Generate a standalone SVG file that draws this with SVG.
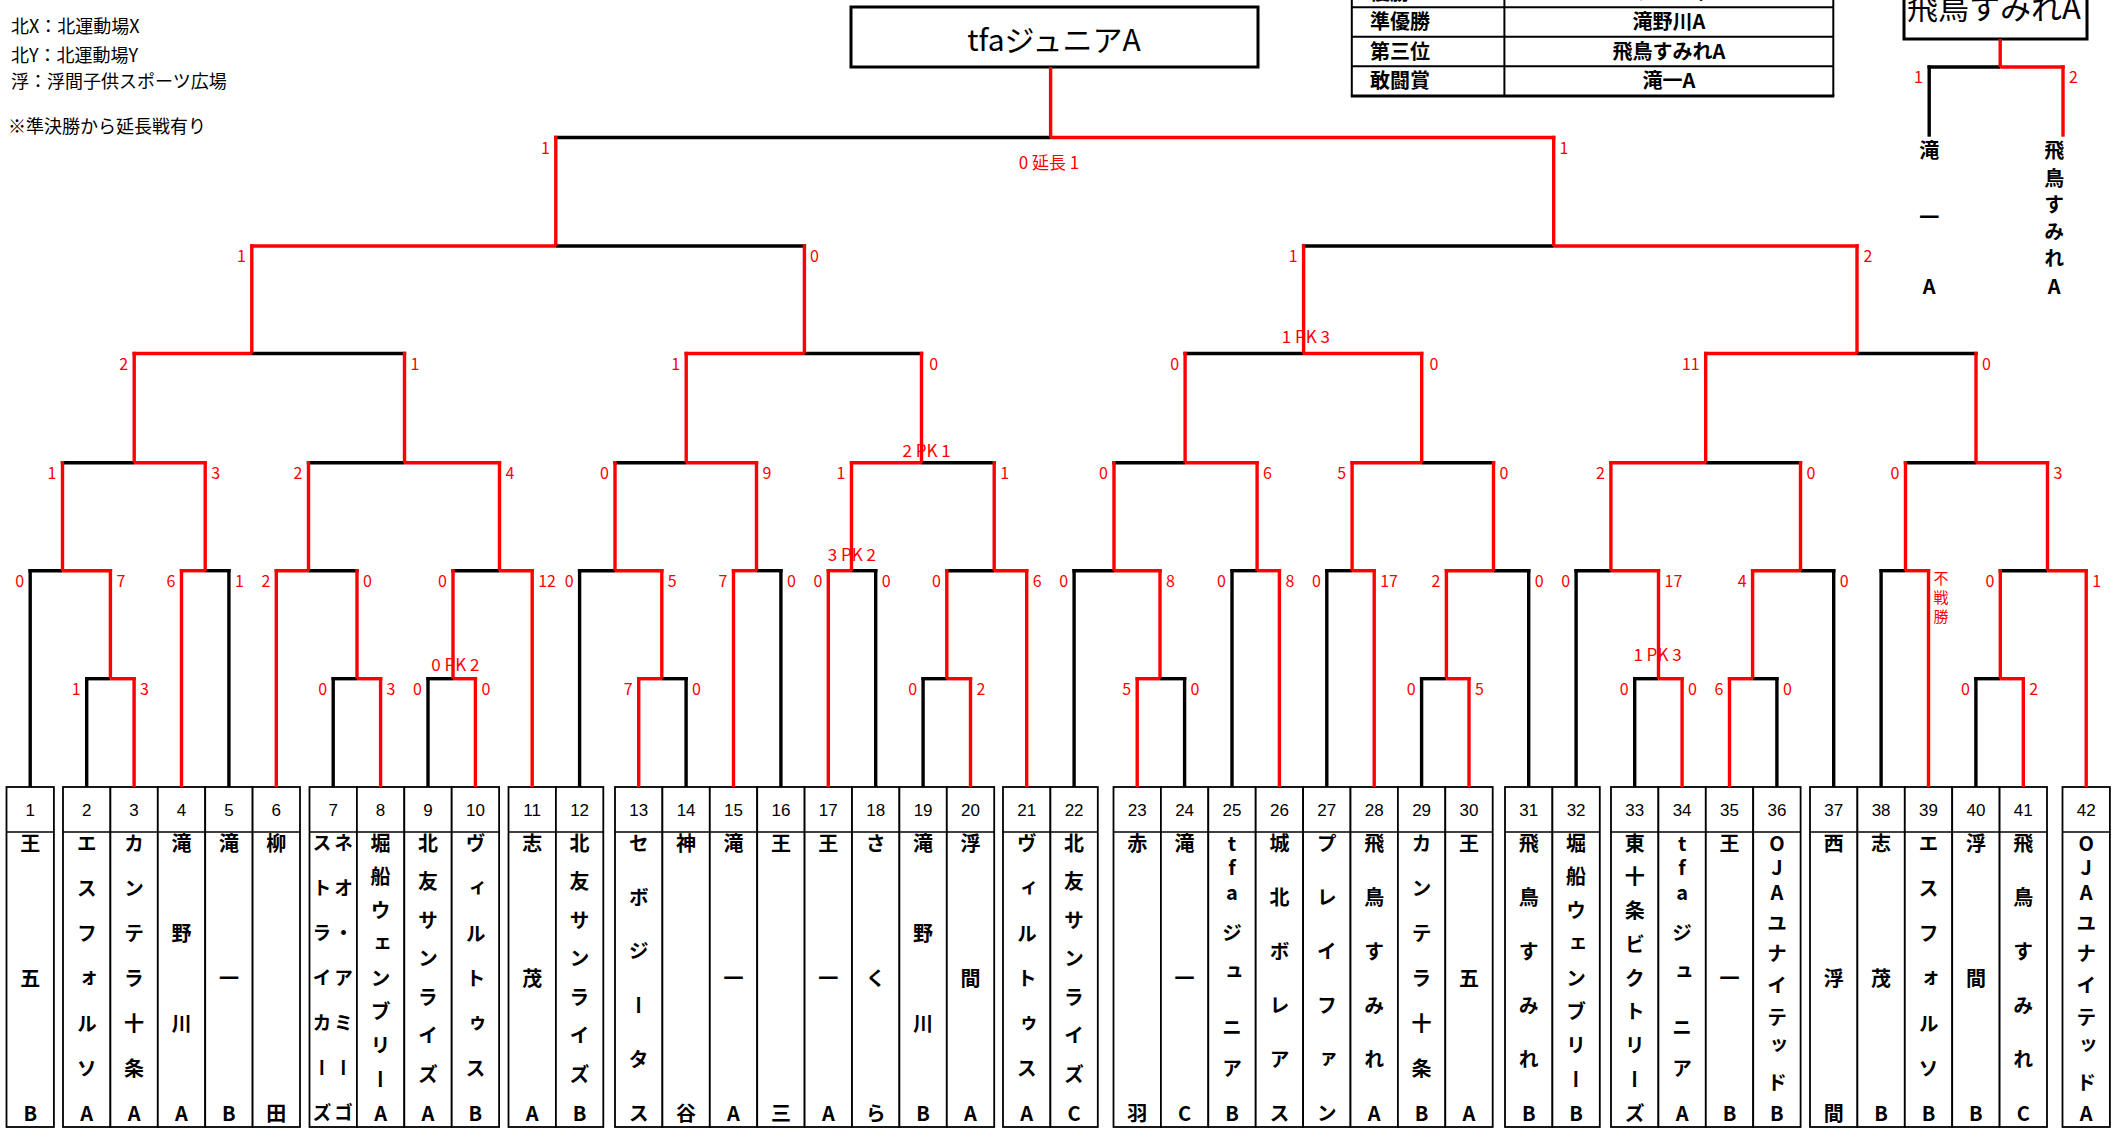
<svg xmlns="http://www.w3.org/2000/svg" width="2119" height="1128" viewBox="0 0 2119 1128">
<style>
.k{stroke:#000;stroke-width:3.4;fill:none}
.r{stroke:#f00;stroke-width:3.4;fill:none}
.cell{fill:#fff;stroke:#000;stroke-width:1.8}
.div{stroke:#000;stroke-width:1.5}
.num{font-family:"Liberation Sans",sans-serif;font-size:17px;text-anchor:middle;fill:#000}
.nm{font-family:"Noto Sans CJK JP",sans-serif;font-weight:bold;font-size:20px;writing-mode:vertical-rl;text-orientation:upright;glyph-orientation-vertical:0;text-anchor:middle;fill:#000}
.nm2{font-size:19px}
.sc{font-family:"Noto Sans CJK JP",sans-serif;font-size:16px;fill:#f00}
.vt{font-family:"Noto Sans CJK JP",sans-serif;font-size:15px;fill:#f00;writing-mode:vertical-rl;text-orientation:upright;text-anchor:middle}
.pk{font-family:"Noto Sans CJK JP",sans-serif;font-size:17px;fill:#f00;text-anchor:middle}
.L{text-anchor:end}
.R{text-anchor:start}
.leg{font-family:"Noto Sans CJK JP",sans-serif;font-size:18px;fill:#000}
.tb{font-family:"Noto Sans CJK JP",sans-serif;font-weight:bold;font-size:20px;fill:#000}
.box{fill:#fff;stroke:#000;stroke-width:3}
</style>
<rect width="2119" height="1128" fill="#fff"/>

<g id="legend">
<text class="leg" x="11" y="33">北X：北運動場X</text>
<text class="leg" x="11" y="61.5">北Y：北運動場Y</text>
<text class="leg" x="11" y="88">浮：浮間子供スポーツ広場</text>
<text class="leg" x="8" y="133">※準決勝から延長戦有り</text>
</g>

<g id="champion">
<rect class="box" x="851" y="7" width="407" height="60"/>
<text x="1054" y="51" font-family="Noto Sans CJK JP, sans-serif" font-size="30" text-anchor="middle">tfaジュニアA</text>
</g>

<g id="results-table">
<g stroke="#000" stroke-width="2">
<line x1="1351.8" y1="-5" x2="1351.8" y2="96"/>
<line x1="1504.4" y1="-5" x2="1504.4" y2="96"/>
<line x1="1833.3" y1="-5" x2="1833.3" y2="96"/>
<line x1="1351.8" y1="7.3" x2="1833.3" y2="7.3"/>
<line x1="1351.8" y1="36.7" x2="1833.3" y2="36.7"/>
<line x1="1351.8" y1="66.3" x2="1833.3" y2="66.3"/>
<line x1="1350.8" y1="96" x2="1834.3" y2="96" stroke-width="3"/>
</g>
<text class="tb" x="1370" y="0">優勝</text>
<text class="tb" x="1669" y="0" text-anchor="middle">tfaジュニアA</text>
<text class="tb" x="1370" y="29">準優勝</text>
<text class="tb" x="1669" y="29" text-anchor="middle">滝野川A</text>
<text class="tb" x="1370" y="58.7">第三位</text>
<text class="tb" x="1669" y="58.7" text-anchor="middle">飛鳥すみれA</text>
<text class="tb" x="1370" y="88">敢闘賞</text>
<text class="tb" x="1669" y="88" text-anchor="middle">滝一A</text>
</g>

<g id="third-place">
<rect class="box" x="1904" y="-5" width="183" height="44"/>
<text x="1907" y="19" font-family="Noto Sans CJK JP, sans-serif" font-size="31">飛鳥すみれA</text>
<text class="nm" x="1929.2" y="150 217 286">滝一A</text>
<text class="nm" x="2054.2" y="150 178 204 231 258 286">飛鳥すみれA</text>
</g>

<g id="teams">
<g id="t1"><rect class="cell" x="6.5" y="787" width="47.4" height="340"/><line class="div" x1="6.5" y1="832" x2="53.9" y2="832"/><text class="num" x="30.2" y="816">1</text><text class="nm" x="30.2" y="843 978 1113">王五B</text></g>
<g id="t2"><rect class="cell" x="63" y="787" width="47.4" height="340"/><line class="div" x1="63" y1="832" x2="110.4" y2="832"/><text class="num" x="86.7" y="816">2</text><text class="nm" x="86.7" y="843 888 933 978 1023 1068 1113">エスフォルソA</text></g>
<g id="t3"><rect class="cell" x="110.4" y="787" width="47.4" height="340"/><line class="div" x1="110.4" y1="832" x2="157.8" y2="832"/><text class="num" x="134.1" y="816">3</text><text class="nm" x="134.1" y="843 888 933 978 1023 1068 1113">カンテラ十条A</text></g>
<g id="t4"><rect class="cell" x="157.8" y="787" width="47.4" height="340"/><line class="div" x1="157.8" y1="832" x2="205.2" y2="832"/><text class="num" x="181.5" y="816">4</text><text class="nm" x="181.5" y="843 933 1023 1113">滝野川A</text></g>
<g id="t5"><rect class="cell" x="205.2" y="787" width="47.4" height="340"/><line class="div" x1="205.2" y1="832" x2="252.6" y2="832"/><text class="num" x="228.9" y="816">5</text><text class="nm" x="228.9" y="843 978 1113">滝一B</text></g>
<g id="t6"><rect class="cell" x="252.6" y="787" width="47.4" height="340"/><line class="div" x1="252.6" y1="832" x2="300" y2="832"/><text class="num" x="276.3" y="816">6</text><text class="nm" x="276.3" y="843 1113">柳田</text></g>
<g id="t7"><rect class="cell" x="309.5" y="787" width="47.4" height="340"/><line class="div" x1="309.5" y1="832" x2="356.9" y2="832"/><text class="num" x="333.2" y="816">7</text><text class="nm nm2" x="343.5" y="843 888 933 978 1023 1068 1113">ネオ・アミーゴ</text><text class="nm nm2" x="322" y="843 888 933 978 1023 1068 1113">ストライカーズ</text></g>
<g id="t8"><rect class="cell" x="356.9" y="787" width="47.4" height="340"/><line class="div" x1="356.9" y1="832" x2="404.3" y2="832"/><text class="num" x="380.6" y="816">8</text><text class="nm" x="380.6" y="843 876.8 910.5 944.3 978 1011.8 1045.5 1079.3 1113">堀船ウェンブリーA</text></g>
<g id="t9"><rect class="cell" x="404.3" y="787" width="47.4" height="340"/><line class="div" x1="404.3" y1="832" x2="451.7" y2="832"/><text class="num" x="428" y="816">9</text><text class="nm" x="428" y="843 881.6 920.1 958.7 997.3 1035.9 1074.4 1113">北友サンライズA</text></g>
<g id="t10"><rect class="cell" x="451.7" y="787" width="47.4" height="340"/><line class="div" x1="451.7" y1="832" x2="499.1" y2="832"/><text class="num" x="475.4" y="816">10</text><text class="nm" x="475.4" y="843 888 933 978 1023 1068 1113">ヴィルトゥスB</text></g>
<g id="t11"><rect class="cell" x="508.5" y="787" width="47.4" height="340"/><line class="div" x1="508.5" y1="832" x2="555.9" y2="832"/><text class="num" x="532.2" y="816">11</text><text class="nm" x="532.2" y="843 978 1113">志茂A</text></g>
<g id="t12"><rect class="cell" x="555.9" y="787" width="47.4" height="340"/><line class="div" x1="555.9" y1="832" x2="603.3" y2="832"/><text class="num" x="579.6" y="816">12</text><text class="nm" x="579.6" y="843 881.6 920.1 958.7 997.3 1035.9 1074.4 1113">北友サンライズB</text></g>
<g id="t13"><rect class="cell" x="615" y="787" width="47.4" height="340"/><line class="div" x1="615" y1="832" x2="662.4" y2="832"/><text class="num" x="638.7" y="816">13</text><text class="nm" x="638.7" y="843 897 951 1005 1059 1113">セボジータス</text></g>
<g id="t14"><rect class="cell" x="662.4" y="787" width="47.4" height="340"/><line class="div" x1="662.4" y1="832" x2="709.8" y2="832"/><text class="num" x="686.1" y="816">14</text><text class="nm" x="686.1" y="843 1113">神谷</text></g>
<g id="t15"><rect class="cell" x="709.8" y="787" width="47.4" height="340"/><line class="div" x1="709.8" y1="832" x2="757.2" y2="832"/><text class="num" x="733.5" y="816">15</text><text class="nm" x="733.5" y="843 978 1113">滝一A</text></g>
<g id="t16"><rect class="cell" x="757.2" y="787" width="47.4" height="340"/><line class="div" x1="757.2" y1="832" x2="804.6" y2="832"/><text class="num" x="780.9" y="816">16</text><text class="nm" x="780.9" y="843 1113">王三</text></g>
<g id="t17"><rect class="cell" x="804.6" y="787" width="47.4" height="340"/><line class="div" x1="804.6" y1="832" x2="852" y2="832"/><text class="num" x="828.3" y="816">17</text><text class="nm" x="828.3" y="843 978 1113">王一A</text></g>
<g id="t18"><rect class="cell" x="852" y="787" width="47.4" height="340"/><line class="div" x1="852" y1="832" x2="899.4" y2="832"/><text class="num" x="875.7" y="816">18</text><text class="nm" x="875.7" y="843 978 1113">さくら</text></g>
<g id="t19"><rect class="cell" x="899.4" y="787" width="47.4" height="340"/><line class="div" x1="899.4" y1="832" x2="946.8" y2="832"/><text class="num" x="923.1" y="816">19</text><text class="nm" x="923.1" y="843 933 1023 1113">滝野川B</text></g>
<g id="t20"><rect class="cell" x="946.8" y="787" width="47.4" height="340"/><line class="div" x1="946.8" y1="832" x2="994.2" y2="832"/><text class="num" x="970.5" y="816">20</text><text class="nm" x="970.5" y="843 978 1113">浮間A</text></g>
<g id="t21"><rect class="cell" x="1003" y="787" width="47.4" height="340"/><line class="div" x1="1003" y1="832" x2="1050.4" y2="832"/><text class="num" x="1026.7" y="816">21</text><text class="nm" x="1026.7" y="843 888 933 978 1023 1068 1113">ヴィルトゥスA</text></g>
<g id="t22"><rect class="cell" x="1050.4" y="787" width="47.4" height="340"/><line class="div" x1="1050.4" y1="832" x2="1097.8" y2="832"/><text class="num" x="1074.1" y="816">22</text><text class="nm" x="1074.1" y="843 881.6 920.1 958.7 997.3 1035.9 1074.4 1113">北友サンライズC</text></g>
<g id="t23"><rect class="cell" x="1113.5" y="787" width="47.4" height="340"/><line class="div" x1="1113.5" y1="832" x2="1160.9" y2="832"/><text class="num" x="1137.2" y="816">23</text><text class="nm" x="1137.2" y="843 1113">赤羽</text></g>
<g id="t24"><rect class="cell" x="1160.9" y="787" width="47.4" height="340"/><line class="div" x1="1160.9" y1="832" x2="1208.3" y2="832"/><text class="num" x="1184.6" y="816">24</text><text class="nm" x="1184.6" y="843 978 1113">滝一C</text></g>
<g id="t25"><rect class="cell" x="1208.3" y="787" width="47.4" height="340"/><line class="div" x1="1208.3" y1="832" x2="1255.7" y2="832"/><text class="num" x="1232" y="816">25</text><text class="nm" x="1232" y="843 867 892 933 972 1027 1068 1113">tfaジュニアB</text></g>
<g id="t26"><rect class="cell" x="1255.7" y="787" width="47.4" height="340"/><line class="div" x1="1255.7" y1="832" x2="1303.1" y2="832"/><text class="num" x="1279.4" y="816">26</text><text class="nm" x="1279.4" y="843 897 951 1005 1059 1113">城北ボレアス</text></g>
<g id="t27"><rect class="cell" x="1303.1" y="787" width="47.4" height="340"/><line class="div" x1="1303.1" y1="832" x2="1350.5" y2="832"/><text class="num" x="1326.8" y="816">27</text><text class="nm" x="1326.8" y="843 897 951 1005 1059 1113">プレイファン</text></g>
<g id="t28"><rect class="cell" x="1350.5" y="787" width="47.4" height="340"/><line class="div" x1="1350.5" y1="832" x2="1397.9" y2="832"/><text class="num" x="1374.2" y="816">28</text><text class="nm" x="1374.2" y="843 897 951 1005 1059 1113">飛鳥すみれA</text></g>
<g id="t29"><rect class="cell" x="1397.9" y="787" width="47.4" height="340"/><line class="div" x1="1397.9" y1="832" x2="1445.3" y2="832"/><text class="num" x="1421.6" y="816">29</text><text class="nm" x="1421.6" y="843 888 933 978 1023 1068 1113">カンテラ十条B</text></g>
<g id="t30"><rect class="cell" x="1445.3" y="787" width="47.4" height="340"/><line class="div" x1="1445.3" y1="832" x2="1492.7" y2="832"/><text class="num" x="1469" y="816">30</text><text class="nm" x="1469" y="843 978 1113">王五A</text></g>
<g id="t31"><rect class="cell" x="1505" y="787" width="47.4" height="340"/><line class="div" x1="1505" y1="832" x2="1552.4" y2="832"/><text class="num" x="1528.7" y="816">31</text><text class="nm" x="1528.7" y="843 897 951 1005 1059 1113">飛鳥すみれB</text></g>
<g id="t32"><rect class="cell" x="1552.4" y="787" width="47.4" height="340"/><line class="div" x1="1552.4" y1="832" x2="1599.8" y2="832"/><text class="num" x="1576.1" y="816">32</text><text class="nm" x="1576.1" y="843 876.8 910.5 944.3 978 1011.8 1045.5 1079.3 1113">堀船ウェンブリーB</text></g>
<g id="t33"><rect class="cell" x="1611" y="787" width="47.4" height="340"/><line class="div" x1="1611" y1="832" x2="1658.4" y2="832"/><text class="num" x="1634.7" y="816">33</text><text class="nm" x="1634.7" y="843 876.8 910.5 944.3 978 1011.8 1045.5 1079.3 1113">東十条ビクトリーズ</text></g>
<g id="t34"><rect class="cell" x="1658.4" y="787" width="47.4" height="340"/><line class="div" x1="1658.4" y1="832" x2="1705.8" y2="832"/><text class="num" x="1682.1" y="816">34</text><text class="nm" x="1682.1" y="843 867 892 933 972 1027 1068 1113">tfaジュニアA</text></g>
<g id="t35"><rect class="cell" x="1705.8" y="787" width="47.4" height="340"/><line class="div" x1="1705.8" y1="832" x2="1753.2" y2="832"/><text class="num" x="1729.5" y="816">35</text><text class="nm" x="1729.5" y="843 978 1113">王一B</text></g>
<g id="t36"><rect class="cell" x="1753.2" y="787" width="47.4" height="340"/><line class="div" x1="1753.2" y1="832" x2="1800.6" y2="832"/><text class="num" x="1776.9" y="816">36</text><text class="nm" x="1776.9" y="843 867 892 923 953 985 1017 1045 1082 1113">OJAユナイテッドB</text></g>
<g id="t37"><rect class="cell" x="1810" y="787" width="47.4" height="340"/><line class="div" x1="1810" y1="832" x2="1857.4" y2="832"/><text class="num" x="1833.7" y="816">37</text><text class="nm" x="1833.7" y="843 978 1113">西浮間</text></g>
<g id="t38"><rect class="cell" x="1857.4" y="787" width="47.4" height="340"/><line class="div" x1="1857.4" y1="832" x2="1904.8" y2="832"/><text class="num" x="1881.1" y="816">38</text><text class="nm" x="1881.1" y="843 978 1113">志茂B</text></g>
<g id="t39"><rect class="cell" x="1904.8" y="787" width="47.4" height="340"/><line class="div" x1="1904.8" y1="832" x2="1952.2" y2="832"/><text class="num" x="1928.5" y="816">39</text><text class="nm" x="1928.5" y="843 888 933 978 1023 1068 1113">エスフォルソB</text></g>
<g id="t40"><rect class="cell" x="1952.2" y="787" width="47.4" height="340"/><line class="div" x1="1952.2" y1="832" x2="1999.6" y2="832"/><text class="num" x="1975.9" y="816">40</text><text class="nm" x="1975.9" y="843 978 1113">浮間B</text></g>
<g id="t41"><rect class="cell" x="1999.6" y="787" width="47.4" height="340"/><line class="div" x1="1999.6" y1="832" x2="2047" y2="832"/><text class="num" x="2023.3" y="816">41</text><text class="nm" x="2023.3" y="843 897 951 1005 1059 1113">飛鳥すみれC</text></g>
<g id="t42"><rect class="cell" x="2062.5" y="787" width="47.4" height="340"/><line class="div" x1="2062.5" y1="832" x2="2109.9" y2="832"/><text class="num" x="2086.2" y="816">42</text><text class="nm" x="2086.2" y="843 867 892 923 953 985 1017 1045 1082 1113">OJAユナイテッドA</text></g>
</g>

<g id="connectors">
<line class="k" x1="85" y1="678.7" x2="110.4" y2="678.7"/><line class="r" x1="110.4" y1="678.7" x2="135.8" y2="678.7"/>
<line class="k" x1="331.5" y1="678.7" x2="357" y2="678.7"/><line class="r" x1="357" y1="678.7" x2="382.3" y2="678.7"/>
<line class="k" x1="426.3" y1="678.7" x2="453" y2="678.7"/><line class="r" x1="453" y1="678.7" x2="477.1" y2="678.7"/>
<line class="r" x1="637" y1="678.7" x2="661.8" y2="678.7"/><line class="k" x1="661.8" y1="678.7" x2="687.8" y2="678.7"/>
<line class="k" x1="921.4" y1="678.7" x2="946.8" y2="678.7"/><line class="r" x1="946.8" y1="678.7" x2="972.2" y2="678.7"/>
<line class="r" x1="1135.5" y1="678.7" x2="1160" y2="678.7"/><line class="k" x1="1160" y1="678.7" x2="1186.3" y2="678.7"/>
<line class="k" x1="1419.9" y1="678.7" x2="1446.4" y2="678.7"/><line class="r" x1="1446.4" y1="678.7" x2="1470.7" y2="678.7"/>
<line class="k" x1="1633" y1="678.7" x2="1658.5" y2="678.7"/><line class="r" x1="1658.5" y1="678.7" x2="1683.8" y2="678.7"/>
<line class="r" x1="1727.8" y1="678.7" x2="1752.6" y2="678.7"/><line class="k" x1="1752.6" y1="678.7" x2="1778.6" y2="678.7"/>
<line class="k" x1="1974.2" y1="678.7" x2="2000.3" y2="678.7"/><line class="r" x1="2000.3" y1="678.7" x2="2025" y2="678.7"/>
<line class="k" x1="28.5" y1="570.7" x2="62.5" y2="570.7"/><line class="r" x1="62.5" y1="570.7" x2="112.1" y2="570.7"/>
<line class="r" x1="179.8" y1="570.7" x2="205.2" y2="570.7"/><line class="k" x1="205.2" y1="570.7" x2="230.6" y2="570.7"/>
<line class="r" x1="274.6" y1="570.7" x2="308.5" y2="570.7"/><line class="k" x1="308.5" y1="570.7" x2="358.7" y2="570.7"/>
<line class="k" x1="451.3" y1="570.7" x2="499.5" y2="570.7"/><line class="r" x1="499.5" y1="570.7" x2="533.9" y2="570.7"/>
<line class="k" x1="577.9" y1="570.7" x2="615" y2="570.7"/><line class="r" x1="615" y1="570.7" x2="663.5" y2="570.7"/>
<line class="r" x1="731.8" y1="570.7" x2="756.5" y2="570.7"/><line class="k" x1="756.5" y1="570.7" x2="782.6" y2="570.7"/>
<line class="r" x1="826.6" y1="570.7" x2="851.5" y2="570.7"/><line class="k" x1="851.5" y1="570.7" x2="877.4" y2="570.7"/>
<line class="k" x1="945.1" y1="570.7" x2="994.2" y2="570.7"/><line class="r" x1="994.2" y1="570.7" x2="1028.4" y2="570.7"/>
<line class="k" x1="1072.4" y1="570.7" x2="1114" y2="570.7"/><line class="r" x1="1114" y1="570.7" x2="1161.7" y2="570.7"/>
<line class="k" x1="1230.3" y1="570.7" x2="1257.1" y2="570.7"/><line class="r" x1="1257.1" y1="570.7" x2="1281.1" y2="570.7"/>
<line class="k" x1="1325.1" y1="570.7" x2="1352.1" y2="570.7"/><line class="r" x1="1352.1" y1="570.7" x2="1375.9" y2="570.7"/>
<line class="r" x1="1444.7" y1="570.7" x2="1493.5" y2="570.7"/><line class="k" x1="1493.5" y1="570.7" x2="1530.4" y2="570.7"/>
<line class="k" x1="1574.4" y1="570.7" x2="1610.9" y2="570.7"/><line class="r" x1="1610.9" y1="570.7" x2="1660.2" y2="570.7"/>
<line class="r" x1="1750.9" y1="570.7" x2="1800.5" y2="570.7"/><line class="k" x1="1800.5" y1="570.7" x2="1835.4" y2="570.7"/>
<line class="k" x1="1879.4" y1="570.7" x2="1905.5" y2="570.7"/><line class="r" x1="1905.5" y1="570.7" x2="1930.2" y2="570.7"/>
<line class="k" x1="1998.6" y1="570.7" x2="2047.5" y2="570.7"/><line class="r" x1="2047.5" y1="570.7" x2="2087.9" y2="570.7"/>
<line class="k" x1="60.8" y1="462.7" x2="134.2" y2="462.7"/><line class="r" x1="134.2" y1="462.7" x2="206.9" y2="462.7"/>
<line class="k" x1="306.8" y1="462.7" x2="404.5" y2="462.7"/><line class="r" x1="404.5" y1="462.7" x2="501.2" y2="462.7"/>
<line class="k" x1="613.3" y1="462.7" x2="686.2" y2="462.7"/><line class="r" x1="686.2" y1="462.7" x2="758.2" y2="462.7"/>
<line class="r" x1="849.8" y1="462.7" x2="921.5" y2="462.7"/><line class="k" x1="921.5" y1="462.7" x2="995.9" y2="462.7"/>
<line class="k" x1="1112.3" y1="462.7" x2="1185.1" y2="462.7"/><line class="r" x1="1185.1" y1="462.7" x2="1258.8" y2="462.7"/>
<line class="r" x1="1350.4" y1="462.7" x2="1421.7" y2="462.7"/><line class="k" x1="1421.7" y1="462.7" x2="1495.2" y2="462.7"/>
<line class="r" x1="1609.2" y1="462.7" x2="1705.7" y2="462.7"/><line class="k" x1="1705.7" y1="462.7" x2="1802.2" y2="462.7"/>
<line class="k" x1="1903.8" y1="462.7" x2="1976" y2="462.7"/><line class="r" x1="1976" y1="462.7" x2="2049.2" y2="462.7"/>
<line class="r" x1="132.5" y1="353.5" x2="251.8" y2="353.5"/><line class="k" x1="251.8" y1="353.5" x2="406.2" y2="353.5"/>
<line class="r" x1="684.5" y1="353.5" x2="804.4" y2="353.5"/><line class="k" x1="804.4" y1="353.5" x2="923.2" y2="353.5"/>
<line class="k" x1="1183.4" y1="353.5" x2="1303.6" y2="353.5"/><line class="r" x1="1303.6" y1="353.5" x2="1423.4" y2="353.5"/>
<line class="r" x1="1704" y1="353.5" x2="1857" y2="353.5"/><line class="k" x1="1857" y1="353.5" x2="1977.7" y2="353.5"/>
<line class="r" x1="250.1" y1="246" x2="555.8" y2="246"/><line class="k" x1="555.8" y1="246" x2="806.1" y2="246"/>
<line class="k" x1="1301.9" y1="246" x2="1553.7" y2="246"/><line class="r" x1="1553.7" y1="246" x2="1858.7" y2="246"/>
<line class="k" x1="554.1" y1="137.5" x2="1050.6" y2="137.5"/><line class="r" x1="1050.6" y1="137.5" x2="1555.4" y2="137.5"/>
<line class="k" x1="1927.5" y1="67" x2="2000.2" y2="67"/><line class="r" x1="2000.2" y1="67" x2="2064.7" y2="67"/>
<line class="r" x1="2000.2" y1="39" x2="2000.2" y2="67"/>
<line class="k" x1="1929.2" y1="65.3" x2="1929.2" y2="136.7"/>
<line class="r" x1="2063" y1="65.3" x2="2063" y2="136.7"/>

<g class="r">
<line x1="110.4" y1="569" x2="110.4" y2="678.7"/>
<line x1="357" y1="569" x2="357" y2="678.7"/>
<line x1="453" y1="569" x2="453" y2="678.7"/>
<line x1="661.8" y1="569" x2="661.8" y2="678.7"/>
<line x1="946.8" y1="569" x2="946.8" y2="678.7"/>
<line x1="1160" y1="569" x2="1160" y2="678.7"/>
<line x1="1446.4" y1="569" x2="1446.4" y2="678.7"/>
<line x1="1658.5" y1="569" x2="1658.5" y2="678.7"/>
<line x1="1752.6" y1="569" x2="1752.6" y2="678.7"/>
<line x1="2000.3" y1="569" x2="2000.3" y2="678.7"/>
<line x1="62.5" y1="461" x2="62.5" y2="570.7"/>
<line x1="205.2" y1="461" x2="205.2" y2="570.7"/>
<line x1="308.5" y1="461" x2="308.5" y2="570.7"/>
<line x1="499.5" y1="461" x2="499.5" y2="570.7"/>
<line x1="615" y1="461" x2="615" y2="570.7"/>
<line x1="756.5" y1="461" x2="756.5" y2="570.7"/>
<line x1="851.5" y1="461" x2="851.5" y2="570.7"/>
<line x1="994.2" y1="461" x2="994.2" y2="570.7"/>
<line x1="1114" y1="461" x2="1114" y2="570.7"/>
<line x1="1257.1" y1="461" x2="1257.1" y2="570.7"/>
<line x1="1352.1" y1="461" x2="1352.1" y2="570.7"/>
<line x1="1493.5" y1="461" x2="1493.5" y2="570.7"/>
<line x1="1610.9" y1="461" x2="1610.9" y2="570.7"/>
<line x1="1800.5" y1="461" x2="1800.5" y2="570.7"/>
<line x1="1905.5" y1="461" x2="1905.5" y2="570.7"/>
<line x1="2047.5" y1="461" x2="2047.5" y2="570.7"/>
<line x1="134.2" y1="351.8" x2="134.2" y2="462.7"/>
<line x1="404.5" y1="351.8" x2="404.5" y2="462.7"/>
<line x1="686.2" y1="351.8" x2="686.2" y2="462.7"/>
<line x1="921.5" y1="351.8" x2="921.5" y2="462.7"/>
<line x1="1185.1" y1="351.8" x2="1185.1" y2="462.7"/>
<line x1="1421.7" y1="351.8" x2="1421.7" y2="462.7"/>
<line x1="1705.7" y1="351.8" x2="1705.7" y2="462.7"/>
<line x1="1976" y1="351.8" x2="1976" y2="462.7"/>
<line x1="251.8" y1="244.3" x2="251.8" y2="353.5"/>
<line x1="804.4" y1="244.3" x2="804.4" y2="353.5"/>
<line x1="1303.6" y1="244.3" x2="1303.6" y2="353.5"/>
<line x1="1857" y1="244.3" x2="1857" y2="353.5"/>
<line x1="555.8" y1="135.8" x2="555.8" y2="246"/>
<line x1="1553.7" y1="135.8" x2="1553.7" y2="246"/>
<line x1="1050.6" y1="67" x2="1050.6" y2="137.5"/>
</g>

<g class="k">
<line x1="86.7" y1="677" x2="86.7" y2="787"/>
<line x1="333.2" y1="677" x2="333.2" y2="787"/>
<line x1="428" y1="677" x2="428" y2="787"/>
<line x1="686.1" y1="677" x2="686.1" y2="787"/>
<line x1="923.1" y1="677" x2="923.1" y2="787"/>
<line x1="1184.6" y1="677" x2="1184.6" y2="787"/>
<line x1="1421.6" y1="677" x2="1421.6" y2="787"/>
<line x1="1634.7" y1="677" x2="1634.7" y2="787"/>
<line x1="1776.9" y1="677" x2="1776.9" y2="787"/>
<line x1="1975.9" y1="677" x2="1975.9" y2="787"/>
<line x1="30.2" y1="569" x2="30.2" y2="787"/>
<line x1="228.9" y1="569" x2="228.9" y2="787"/>
<line x1="579.6" y1="569" x2="579.6" y2="787"/>
<line x1="780.9" y1="569" x2="780.9" y2="787"/>
<line x1="875.7" y1="569" x2="875.7" y2="787"/>
<line x1="1074.1" y1="569" x2="1074.1" y2="787"/>
<line x1="1232" y1="569" x2="1232" y2="787"/>
<line x1="1326.8" y1="569" x2="1326.8" y2="787"/>
<line x1="1528.7" y1="569" x2="1528.7" y2="787"/>
<line x1="1576.1" y1="569" x2="1576.1" y2="787"/>
<line x1="1833.7" y1="569" x2="1833.7" y2="787"/>
<line x1="1881.1" y1="569" x2="1881.1" y2="787"/>
</g>
<g class="r">
<line x1="134.1" y1="677" x2="134.1" y2="787"/>
<line x1="380.6" y1="677" x2="380.6" y2="787"/>
<line x1="475.4" y1="677" x2="475.4" y2="787"/>
<line x1="638.7" y1="677" x2="638.7" y2="787"/>
<line x1="970.5" y1="677" x2="970.5" y2="787"/>
<line x1="1137.2" y1="677" x2="1137.2" y2="787"/>
<line x1="1469" y1="677" x2="1469" y2="787"/>
<line x1="1682.1" y1="677" x2="1682.1" y2="787"/>
<line x1="1729.5" y1="677" x2="1729.5" y2="787"/>
<line x1="2023.3" y1="677" x2="2023.3" y2="787"/>
<line x1="181.5" y1="569" x2="181.5" y2="787"/>
<line x1="276.3" y1="569" x2="276.3" y2="787"/>
<line x1="532.2" y1="569" x2="532.2" y2="787"/>
<line x1="733.5" y1="569" x2="733.5" y2="787"/>
<line x1="828.3" y1="569" x2="828.3" y2="787"/>
<line x1="1026.7" y1="569" x2="1026.7" y2="787"/>
<line x1="1279.4" y1="569" x2="1279.4" y2="787"/>
<line x1="1374.2" y1="569" x2="1374.2" y2="787"/>
<line x1="1928.5" y1="569" x2="1928.5" y2="787"/>
<line x1="2086.2" y1="569" x2="2086.2" y2="787"/>
</g>

<g class="sc">
<text class="L" x="80.7" y="694.7">1</text><text class="R" x="140.1" y="694.7">3</text>
<text class="L" x="327.2" y="694.7">0</text><text class="R" x="386.6" y="694.7">3</text>
<text class="L" x="422" y="694.7">0</text><text class="R" x="481.4" y="694.7">0</text>
<text class="L" x="632.7" y="694.7">7</text><text class="R" x="692.1" y="694.7">0</text>
<text class="L" x="917.1" y="694.7">0</text><text class="R" x="976.5" y="694.7">2</text>
<text class="L" x="1131.2" y="694.7">5</text><text class="R" x="1190.6" y="694.7">0</text>
<text class="L" x="1415.6" y="694.7">0</text><text class="R" x="1475" y="694.7">5</text>
<text class="L" x="1628.7" y="694.7">0</text><text class="R" x="1688.1" y="694.7">0</text>
<text class="L" x="1723.5" y="694.7">6</text><text class="R" x="1782.9" y="694.7">0</text>
<text class="L" x="1969.9" y="694.7">0</text><text class="R" x="2029.3" y="694.7">2</text>

<text class="L" x="24.2" y="586.7">0</text><text class="R" x="116.4" y="586.7">7</text>
<text class="L" x="175.5" y="586.7">6</text><text class="R" x="234.9" y="586.7">1</text>
<text class="L" x="270.3" y="586.7">2</text><text class="R" x="363" y="586.7">0</text>
<text class="L" x="447" y="586.7">0</text><text class="R" x="538.2" y="586.7">12</text>
<text class="L" x="573.6" y="586.7">0</text><text class="R" x="667.8" y="586.7">5</text>
<text class="L" x="727.5" y="586.7">7</text><text class="R" x="786.9" y="586.7">0</text>
<text class="L" x="822.3" y="586.7">0</text><text class="R" x="881.7" y="586.7">0</text>
<text class="L" x="940.8" y="586.7">0</text><text class="R" x="1032.7" y="586.7">6</text>
<text class="L" x="1068.1" y="586.7">0</text><text class="R" x="1166" y="586.7">8</text>
<text class="L" x="1226" y="586.7">0</text><text class="R" x="1285.4" y="586.7">8</text>
<text class="L" x="1320.8" y="586.7">0</text><text class="R" x="1380.2" y="586.7">17</text>
<text class="L" x="1440.4" y="586.7">2</text><text class="R" x="1534.7" y="586.7">0</text>
<text class="L" x="1570.1" y="586.7">0</text><text class="R" x="1664.5" y="586.7">17</text>
<text class="L" x="1746.6" y="586.7">4</text><text class="R" x="1839.7" y="586.7">0</text>
<text class="L" x="1994.3" y="586.7">0</text><text class="R" x="2092.2" y="586.7">1</text>

<text class="L" x="56.5" y="478.7">1</text><text class="R" x="211.2" y="478.7">3</text>
<text class="L" x="302.5" y="478.7">2</text><text class="R" x="505.5" y="478.7">4</text>
<text class="L" x="609" y="478.7">0</text><text class="R" x="762.5" y="478.7">9</text>
<text class="L" x="845.5" y="478.7">1</text><text class="R" x="1000.2" y="478.7">1</text>
<text class="L" x="1108" y="478.7">0</text><text class="R" x="1263.1" y="478.7">6</text>
<text class="L" x="1346.1" y="478.7">5</text><text class="R" x="1499.5" y="478.7">0</text>
<text class="L" x="1604.9" y="478.7">2</text><text class="R" x="1806.5" y="478.7">0</text>
<text class="L" x="1899.5" y="478.7">0</text><text class="R" x="2053.5" y="478.7">3</text>

<text class="L" x="128.2" y="369.5">2</text><text class="R" x="410.5" y="369.5">1</text>
<text class="L" x="680.2" y="369.5">1</text><text class="R" x="929.2" y="369.5">0</text>
<text class="L" x="1179.1" y="369.5">0</text><text class="R" x="1429.4" y="369.5">0</text>
<text class="L" x="1699.7" y="369.5">11</text><text class="R" x="1982" y="369.5">0</text>

<text class="L" x="245.8" y="262">1</text><text class="R" x="810.1" y="262">0</text>
<text class="L" x="1297.6" y="262">1</text><text class="R" x="1863.4" y="262">2</text>

<text class="L" x="549.8" y="153.5">1</text><text class="R" x="1559.4" y="153.5">1</text>

<text class="L" x="1923" y="82.5">1</text><text class="R" x="2069" y="82.5">2</text>
</g>
<text class="vt" x="1941" y="578 597 616">不戦勝</text>
<g>
<text class="pk" x="455.4" y="671">0 PK 2</text>
<text class="pk" x="1657.5" y="661">1 PK 3</text>
<text class="pk" x="851.8" y="561">3 PK 2</text>
<text class="pk" x="926.6" y="457">2 PK 1</text>
<text class="pk" x="1305.8" y="343">1 PK 3</text>
<text class="pk" x="1049" y="169" font-size="18">0 延長 1</text>
</g>
</g>
</svg>
